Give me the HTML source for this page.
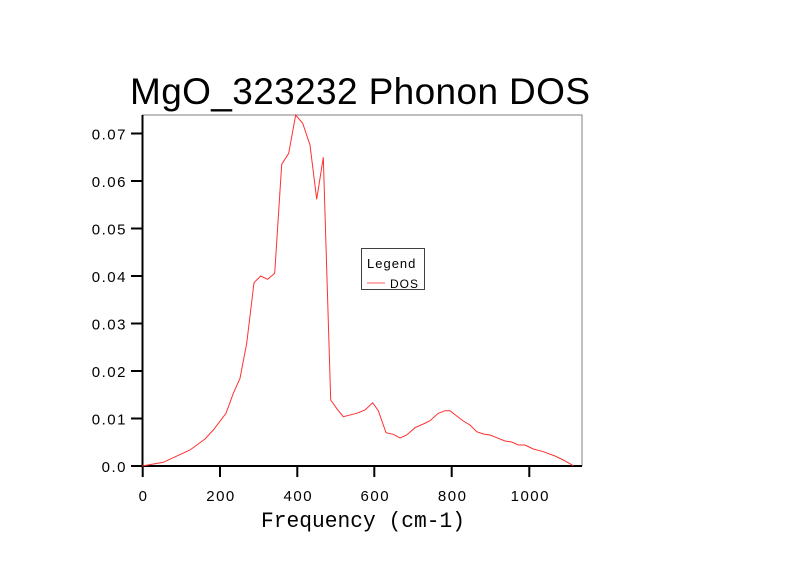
<!DOCTYPE html>
<html><head><style>html,body{margin:0;padding:0;background:#fff}</style></head>
<body>
<svg width="800" height="565" viewBox="0 0 800 565" xmlns="http://www.w3.org/2000/svg" font-family="Liberation Sans, sans-serif">
<rect width="800" height="565" fill="#fff"/>
<text x="130" y="104" font-size="37" letter-spacing="2" textLength="462" lengthAdjust="spacing">MgO_323232 Phonon DOS</text>
<rect x="142.5" y="115" width="439.5" height="351" fill="none" stroke="#808080" stroke-width="1"/>
<line x1="142.5" y1="115" x2="142.5" y2="466" stroke="#000" stroke-width="2"/>
<line x1="142.5" y1="466" x2="582" y2="466" stroke="#000" stroke-width="2"/>
<g stroke="#000" stroke-width="2">
<line x1="131" y1="466" x2="142" y2="466"/><line x1="131" y1="418.5" x2="142" y2="418.5"/>
<line x1="131" y1="371" x2="142" y2="371"/><line x1="131" y1="323.5" x2="142" y2="323.5"/>
<line x1="131" y1="276" x2="142" y2="276"/><line x1="131" y1="228.5" x2="142" y2="228.5"/>
<line x1="131" y1="181" x2="142" y2="181"/><line x1="131" y1="133.5" x2="142" y2="133.5"/>
<line x1="142.7" y1="466" x2="142.7" y2="477"/><line x1="220" y1="466" x2="220" y2="477"/>
<line x1="297.3" y1="466" x2="297.3" y2="477"/><line x1="374.3" y1="466" x2="374.3" y2="477"/>
<line x1="451.7" y1="466" x2="451.7" y2="477"/><line x1="529.3" y1="466" x2="529.3" y2="477"/>
</g>
<g font-size="15" text-anchor="end" letter-spacing="1.5">
<text x="127" y="472">0.0</text><text x="127" y="424.5">0.01</text><text x="127" y="377">0.02</text>
<text x="127" y="329.5">0.03</text><text x="127" y="282">0.04</text><text x="127" y="234.5">0.05</text>
<text x="127" y="187">0.06</text><text x="127" y="139.5">0.07</text>
</g>
<g font-size="15" text-anchor="middle" letter-spacing="1.5">
<text x="143.5" y="501">0</text><text x="221" y="501">200</text><text x="298.3" y="501">400</text>
<text x="375.3" y="501">600</text><text x="452.7" y="501">800</text><text x="530.3" y="501">1000</text>
</g>
<text x="261" y="527" font-family="Liberation Mono, monospace" font-size="22" textLength="204" lengthAdjust="spacingAndGlyphs">Frequency (cm-1)</text>
<polyline fill="none" stroke="#ff3030" stroke-width="1" points="142,466 163.3,462.3 190,450 205,439 213.3,430 226,413.3 233.3,393.3 240,378.3 246.7,343.3 254,282.7 260.7,276 267.7,279.3 274.7,273.3 281.7,164.3 288.7,153.3 295.7,115 302.7,123.3 310,145 316.7,199.3 323.3,157.3 330.7,400 337.3,409.3 343.3,416.7 356.7,413.3 365,410 372.7,402.7 378.3,410.7 386,432.7 393.3,434.3 400,438 406.7,435 415,427.7 423.3,424 430,420.7 438.3,413.3 445,410.7 450,410.7 456.7,416 463.3,421 470,425 476.7,431.7 483.3,434 490,435 496.7,437.7 505,441 511.7,442 518.3,445 525,445 533.3,449 543.3,451.7 555,456 563.3,460 573.3,465.7"/>
<rect x="361.5" y="248.5" width="63" height="41" fill="#fff" stroke="#404040" stroke-width="1"/>
<text x="367" y="268" font-size="13" letter-spacing="1">Legend</text>
<line x1="367" y1="283" x2="385" y2="283" stroke="#ff6060" stroke-width="1"/>
<text x="390" y="288" font-size="12" letter-spacing="1">DOS</text>
</svg>
</body></html>
